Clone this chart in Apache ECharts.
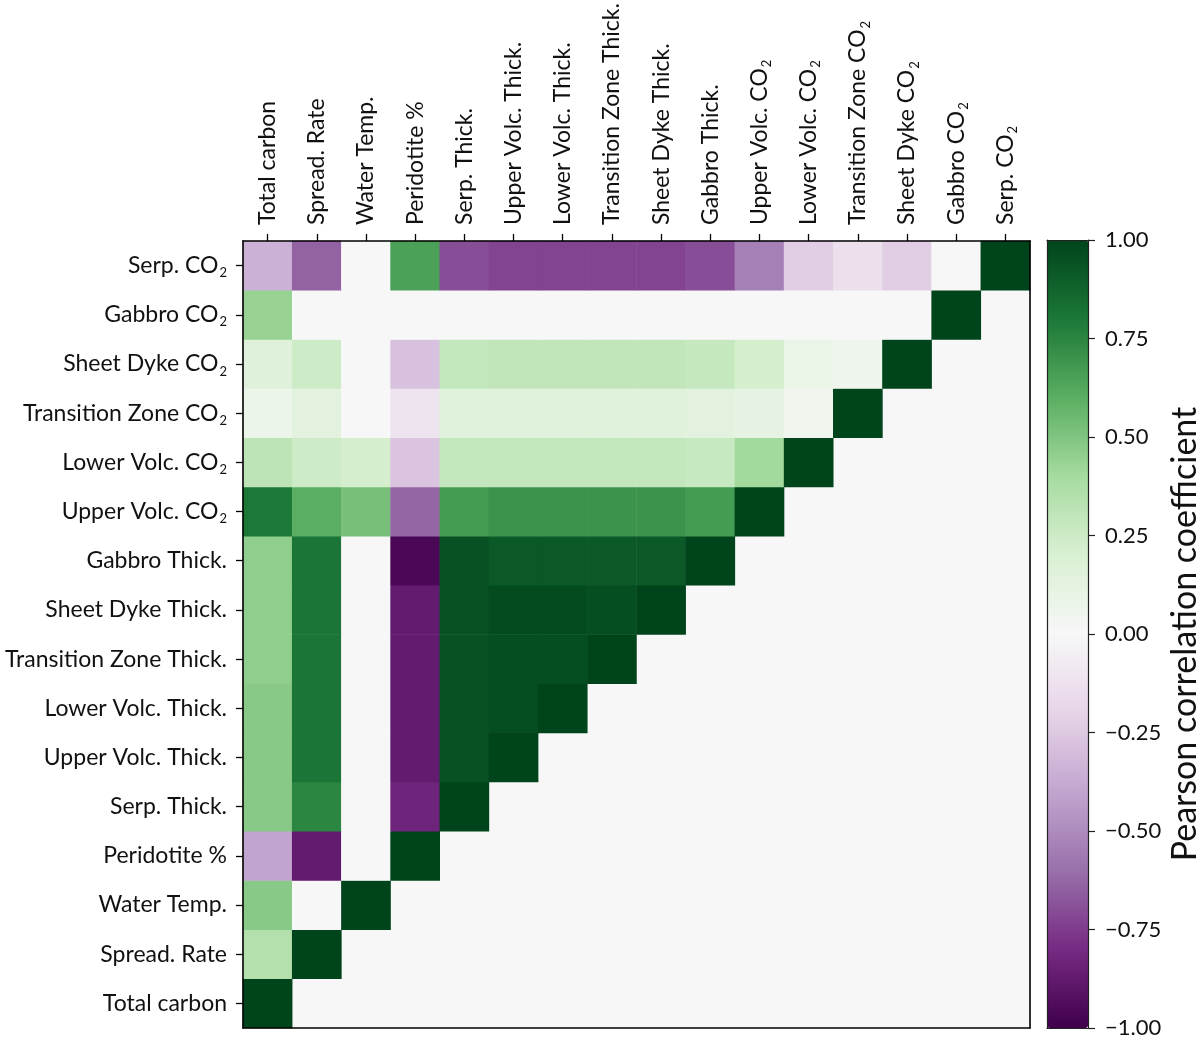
<!DOCTYPE html>
<html><head><meta charset="utf-8">
<script src="https://cdn.jsdelivr.net/npm/echarts@6/dist/echarts.min.js"></script>
<style>html,body{margin:0;padding:0;background:#fff}#c{width:1200px;height:1040px}</style>
</head><body><div id="c"></div>
<script>
// Variable names (x axis left→right, y axis bottom→top)
const variables = ['Total carbon','Spread. Rate','Water Temp.','Peridotite %','Serp. Thick.',
  'Upper Volc. Thick.','Lower Volc. Thick.','Transition Zone Thick.','Sheet Dyke Thick.','Gabbro Thick.',
  'Upper Volc. CO2','Lower Volc. CO2','Transition Zone CO2','Sheet Dyke CO2','Gabbro CO2','Serp. CO2'];

// Lower-triangle correlation rows (row variable vs. variables 0..row)
const rowTotalCarbon     = [1];
const rowSpreadRate      = [0.35, 1];
const rowWaterTemp       = [0.48, 0, 1];
const rowPeridotite      = [-0.40, -0.87, 0, 1];
const rowSerpThick       = [0.48, 0.75, 0, -0.83, 1];
const rowUpperVolcThick  = [0.48, 0.81, 0, -0.87, 0.95, 1];
const rowLowerVolcThick  = [0.48, 0.81, 0, -0.87, 0.95, 0.96, 1];
const rowTransZoneThick  = [0.46, 0.81, 0, -0.87, 0.95, 0.96, 0.96, 1];
const rowSheetDykeThick  = [0.46, 0.81, 0, -0.87, 0.95, 0.97, 0.97, 0.96, 1];
const rowGabbroThick     = [0.46, 0.81, 0, -0.96, 0.95, 0.92, 0.92, 0.92, 0.92, 1];
const rowUpperVolcCO2    = [0.80, 0.60, 0.52, -0.63, 0.67, 0.70, 0.70, 0.70, 0.70, 0.67, 1];
const rowLowerVolcCO2    = [0.31, 0.25, 0.22, -0.27, 0.29, 0.29, 0.29, 0.29, 0.29, 0.27, 0.41, 1];
const rowTransZoneCO2    = [0.07, 0.14, 0, -0.11, 0.15, 0.15, 0.15, 0.15, 0.15, 0.14, 0.11, 0.05, 1];
const rowSheetDykeCO2    = [0.16, 0.25, 0, -0.28, 0.29, 0.30, 0.30, 0.30, 0.30, 0.28, 0.22, 0.09, 0.06, 1];
const rowGabbroCO2       = [0.44, 0, 0, 0, 0, 0, 0, 0, 0, 0, 0, 0, 0, 0, 1];
const rowSerpCO2         = [-0.35, -0.64, 0, 0.65, -0.70, -0.73, -0.73, -0.73, -0.73, -0.70, -0.54, -0.23, -0.13, -0.23, 0, 1];

const rows = [rowTotalCarbon, rowSpreadRate, rowWaterTemp, rowPeridotite, rowSerpThick,
  rowUpperVolcThick, rowLowerVolcThick, rowTransZoneThick, rowSheetDykeThick, rowGabbroThick,
  rowUpperVolcCO2, rowLowerVolcCO2, rowTransZoneCO2, rowSheetDykeCO2, rowGabbroCO2, rowSerpCO2];

// Colour-bar ticks
const cbarMin = -1, cbarMax = 1, cbarStep = 0.25;
// PRGn colormap stops
const prgn = ['#40004b','#762a83','#9970ab','#c2a5cf','#e7d4e8','#f7f7f7','#d9f0d3','#a6dba0','#5aae61','#1b7837','#00441b'];

const data = [];
rows.forEach((r, yi) => r.forEach((v, xi) => data.push([xi, yi, v])));

const FONT = 'Lato';
const rich = {
  n: {fontFamily: FONT, fontSize: 23, color: '#111'},
  s: {fontFamily: FONT, fontSize: 13, color: '#111', padding: [15, 0, 0, 1]}
};
function fmtLabel(v) {
  if (/CO2$/.test(v)) return '{n|' + v.slice(0, -1) + '}{s|2}';
  return '{n|' + v + '}';
}

const chart = echarts.init(document.getElementById('c'));
const lineOnly = {show: true, onZero: false, lineStyle: {color: '#000', width: 1.6}};
const cbLine = {show: true, onZero: false, lineStyle: {color: '#222', width: 1.2}};
chart.setOption({
  animation: false,
  backgroundColor: '#fff',
  grid: [
    {left: 243, top: 241, width: 787, height: 787, show: true, backgroundColor: '#f7f7f7', borderWidth: 0},
    {left: 1047, top: 240, width: 41, height: 788, show: false}
  ],
  xAxis: [
    {type: 'category', gridIndex: 0, data: variables, position: 'top', z: 10,
     axisLine: lineOnly, axisTick: {show: true, alignWithLabel: true, length: 7, lineStyle: {color: '#000', width: 1.3}},
     axisLabel: {rotate: -90, margin: 16, formatter: fmtLabel, rich: rich}, splitLine: {show: false}},
    {type: 'category', gridIndex: 0, data: variables, position: 'bottom', z: 10,
     axisLine: lineOnly, axisTick: {show: false}, axisLabel: {show: false}},
    {type: 'value', gridIndex: 1, position: 'top', z: 10, min: 0, max: 1,
     axisLine: cbLine, axisTick: {show: false}, axisLabel: {show: false}, splitLine: {show: false}},
    {type: 'value', gridIndex: 1, position: 'bottom', z: 10, min: 0, max: 1,
     axisLine: cbLine, axisTick: {show: false}, axisLabel: {show: false}, splitLine: {show: false}}
  ],
  yAxis: [
    {type: 'category', gridIndex: 0, data: variables, position: 'left', z: 10,
     axisLine: lineOnly, axisTick: {show: true, alignWithLabel: true, length: 7, lineStyle: {color: '#000', width: 1.3}},
     axisLabel: {margin: 16, formatter: fmtLabel, rich: rich}, splitLine: {show: false}},
    {type: 'category', gridIndex: 0, data: variables, position: 'right', z: 10,
     axisLine: lineOnly, axisTick: {show: false}, axisLabel: {show: false}},
    {type: 'value', gridIndex: 1, position: 'right', z: 10, min: cbarMin, max: cbarMax, interval: cbarStep,
     axisLine: cbLine,
     axisTick: {show: true, length: 7, lineStyle: {color: '#222', width: 1.2}},
     axisLabel: {margin: 17, fontFamily: FONT, fontSize: 22, color: '#111',
       formatter: v => (v < 0 ? '\u2212' : '') + Math.abs(v).toFixed(2)},
     splitLine: {show: false}},
    {type: 'value', gridIndex: 1, position: 'left', z: 10, min: cbarMin, max: cbarMax,
     axisLine: cbLine, axisTick: {show: false}, axisLabel: {show: false}, splitLine: {show: false}}
  ],
  visualMap: {
    type: 'continuous', min: cbarMin, max: cbarMax, calculable: false, realtime: false,
    orient: 'vertical', left: 1047, top: 240, padding: 0, itemWidth: 41, itemHeight: 788,
    inRange: {color: prgn}, text: null, showLabel: false, seriesIndex: 0, hoverLink: false
  },
  graphic: [{
    type: 'text', x: 1185, y: 634, rotation: Math.PI / 2,
    style: {text: 'Pearson correlation coefficient', fontFamily: FONT, fontSize: 34, fill: '#111',
      textAlign: 'center', textVerticalAlign: 'middle'}
  }],
  series: [{
    type: 'heatmap', xAxisIndex: 0, yAxisIndex: 0, data: data,
    itemStyle: {borderWidth: 0}, emphasis: {disabled: true}
  }]
});
</script></body></html>
